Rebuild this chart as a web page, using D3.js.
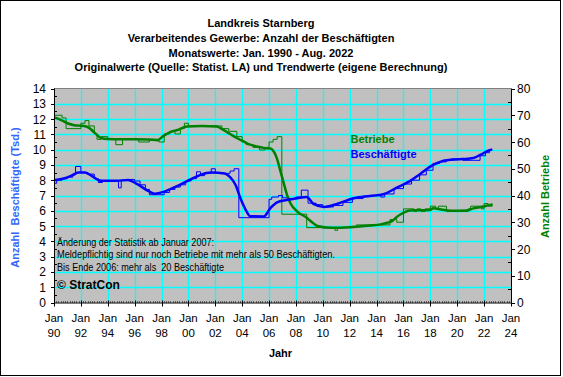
<!DOCTYPE html>
<html><head><meta charset="utf-8">
<script src="https://cdn.jsdelivr.net/npm/d3@7"></script>
<style>body{margin:0;background:#fff}svg{display:block;font-family:Arial,"Liberation Sans",sans-serif}</style>
</head><body><svg id="c" width="563" height="377"></svg>
<script>
const titleLines = ["Landkreis Starnberg","Verarbeitendes Gewerbe: Anzahl der Beschäftigten","Monatswerte: Jan. 1990 - Aug. 2022","Originalwerte (Quelle: Statist. LA) und Trendwerte (eigene Berechnung)"];
const xTickYears = [1990,1992,1994,1996,1998,2000,2002,2004,2006,2008,2010,2012,2014,2016,2018,2020,2022,2024];
const leftTicks = [0,1,2,3,4,5,6,7,8,9,10,11,12,13,14];
const rightTicks = [0,10,20,30,40,50,60,70,80];
const notes = ["Änderung der Statistik ab Januar 2007:","Meldepflichtig sind nur noch Betriebe mit mehr als 50 Beschäftigten.","Bis Ende 2006: mehr als  20 Beschäftigte"];
const noteWidths = [157,278,167];
// Beschäftigte (Tsd.) original, step points [year, value]
const beschOrigYear = [1990.0,1990.2,1990.6,1991.0,1991.4,1991.6,1992.0,1992.5,1993.0,1993.3,1993.6,1994.5,1994.8,1995.0,1995.5,1996.0,1996.4,1996.8,1997.1,1998.2,1998.6,1999.0,1999.4,1999.8,2000.2,2000.6,2000.9,2001.2,2001.7,2002.0,2002.6,2003.1,2003.4,2003.75,2006.0,2006.2,2006.7,2007.0,2007.5,2008.0,2008.4,2008.9,2009.5,2010.0,2010.8,2011.5,2012.2,2013.0,2013.6,2014.3,2014.6,2015.3,2016.0,2016.6,2017.2,2017.7,2018.2,2018.7,2019.2,2019.6,2020.4,2021.2,2021.7,2022.1,2022.4,2022.6];
const beschOrigVal  = [7.8,8.0,8.1,8.2,8.35,8.9,8.5,8.4,8.1,7.85,7.95,7.95,7.5,8.0,8.05,7.95,7.7,7.4,7.05,7.2,7.4,7.55,7.7,7.95,8.1,8.55,8.3,8.45,8.75,8.5,8.45,8.6,8.75,5.55,6.75,6.9,7.0,6.85,6.8,6.9,7.35,6.5,6.4,6.25,6.35,6.55,6.8,6.95,7.0,6.9,7.1,7.45,7.75,8.0,8.35,8.65,9.1,9.2,9.3,9.4,9.3,9.3,9.6,9.8,10.0,10.0];
// Beschäftigte trend
const beschTrendYear = [1990.0,1990.8,1991.3,1991.8,1992.3,1992.8,1993.5,1994.7,1995.5,1996.2,1997.0,1997.5,1998.2,1999.2,2000.2,2000.9,2001.7,2002.7,2003.1,2003.5,2003.9,2004.3,2004.6,2005.6,2006.1,2006.6,2007.3,2008.1,2008.8,2009.3,2010.1,2011.1,2012.3,2013.5,2014.5,2015.5,2016.5,2017.2,2018.2,2019.2,2020.4,2021.2,2021.7,2022.4,2022.6];
const beschTrendVal  = [8.0,8.13,8.3,8.5,8.5,8.28,7.96,7.96,8.02,7.74,7.3,7.12,7.25,7.63,8.07,8.35,8.5,8.44,8.2,7.7,6.75,6.0,5.65,5.63,6.18,6.55,6.7,6.82,6.9,6.45,6.25,6.46,6.82,6.97,7.08,7.51,7.96,8.38,9.0,9.31,9.38,9.45,9.65,9.97,10.02];
// Betriebe original, step points
const betrOrigYear = [1990.0,1990.6,1990.9,1992.0,1992.3,1992.6,1993.0,1993.2,1993.5,1994.0,1994.6,1995.1,1996.3,1997.1,1997.8,1998.2,1998.6,1999.0,1999.4,1999.7,2000.0,2002.5,2003.0,2003.6,2004.0,2004.3,2004.8,2005.3,2005.7,2006.0,2006.3,2006.6,2006.95,2008.8,2010.9,2011.1,2012.5,2014.0,2015.0,2015.5,2016.0,2016.8,2017.0,2017.3,2017.6,2018.0,2018.4,2018.6,2019.2,2020.8,2021.0,2021.8,2022.0,2022.3,2022.6];
const betrOrigVal  = [70,69,65,67,68,66,63,61,62,61,59,61,60,61,60,63,64,63,65,67,66,65,64,62,60,59,58,57,58,60,61,62,33,28,27,28,29,29,31,30,35,34,35,34,35,36,35,36,34,35,36,35,37,36,37];
// Betriebe trend
const betrTrendYear = [1990.0,1990.5,1991.0,1991.5,1992.0,1992.5,1993.0,1993.5,1994.0,1995.0,1996.0,1997.0,1997.7,1998.2,1998.7,1999.2,1999.9,2001.0,2002.1,2002.6,2003.1,2003.6,2004.1,2004.6,2005.1,2005.6,2006.1,2006.4,2006.6,2006.85,2007.1,2007.35,2007.6,2008.1,2008.8,2009.2,2009.6,2010.6,2012.0,2013.5,2014.3,2014.8,2015.2,2015.5,2015.8,2016.5,2017.5,2018.0,2018.2,2018.8,2019.5,2020.7,2021.2,2021.8,2022.4,2022.6];
const betrTrendVal  = [69.2,68.3,67.0,66.3,66.1,65.6,63.6,61.5,61.1,61.0,61.0,60.9,60.7,62.5,63.8,64.5,65.8,66.0,65.8,64.5,63.0,61.5,60.2,59.0,58.3,57.8,57.6,56.0,53.6,49.0,44.5,40.0,37.0,34.0,31.7,30.0,28.6,27.9,28.1,28.8,29.2,29.8,30.6,32.0,33.0,34.4,34.5,34.6,35.2,34.8,34.3,34.4,35.2,35.7,36.4,36.6];

const svg = d3.select("#c");
const L = 54, R = 511, T = 88.5, B = 302.5;
const x = d3.scaleLinear().domain([1990,2024]).range([L,R]);
const yL = d3.scaleLinear().domain([0,14]).range([B,T]);
const yR = d3.scaleLinear().domain([0,80]).range([B,T]);
const BLUE = "#0000ff", GREEN = "#008000";

svg.append("rect").attr("x",0.5).attr("y",0.5).attr("width",560).attr("height",375).attr("fill","#fff").attr("stroke","#000").attr("stroke-width",1);

// titles
svg.append("g").selectAll("text").data(titleLines).join("text")
  .attr("x",261).attr("y",(d,i)=>27+i*14.8).attr("text-anchor","middle")
  .attr("font-size",11).attr("font-weight","bold").text(d=>d);

// plot bg
svg.append("rect").attr("x",L).attr("y",T).attr("width",R-L).attr("height",B-T).attr("fill","#c0c0c0");
// grid
const g = svg.append("g").attr("stroke","#00ffff").attr("stroke-width",1.3);
g.selectAll(".v").data(xTickYears.filter(v=>v>1990&&v<2024)).join("line")
  .attr("x1",d=>Math.round(x(d))+0.5).attr("x2",d=>Math.round(x(d))+0.5).attr("y1",T).attr("y2",B);
g.selectAll(".h").data(leftTicks.filter(v=>v>0&&v<14)).join("line")
  .attr("y1",d=>Math.round(yL(d))+0.5).attr("y2",d=>Math.round(yL(d))+0.5).attr("x1",L).attr("x2",R);
svg.append("line").attr("x1",L).attr("x2",R).attr("y1",T).attr("y2",T).attr("stroke","#808080");

// series
const pts = (ys,vs)=>ys.map((d,i)=>[d,vs[i]]);
const lineL = c=>d3.line().x(d=>x(d[0])).y(d=>yL(d[1])).curve(c);
const lineR = c=>d3.line().x(d=>x(d[0])).y(d=>yR(d[1])).curve(c);
svg.append("path").attr("d",lineR(d3.curveStepAfter)(pts(betrOrigYear,betrOrigVal))).attr("fill","none").attr("stroke",GREEN).attr("stroke-width",1);
svg.append("path").attr("d",lineL(d3.curveStepAfter)(pts(beschOrigYear,beschOrigVal))).attr("fill","none").attr("stroke",BLUE).attr("stroke-width",1);
svg.append("path").attr("d",lineR(d3.curveMonotoneX)(pts(betrTrendYear,betrTrendVal))).attr("fill","none").attr("stroke",GREEN).attr("stroke-width",2.5);
svg.append("path").attr("d",lineL(d3.curveMonotoneX)(pts(beschTrendYear,beschTrendVal))).attr("fill","none").attr("stroke",BLUE).attr("stroke-width",2.5);

// axes
const ax = svg.append("g").attr("stroke","#000").attr("stroke-width",1);
ax.append("line").attr("x1",L+0.5).attr("x2",L+0.5).attr("y1",T).attr("y2",B+0.5);
ax.append("line").attr("x1",R+0.5).attr("x2",R+0.5).attr("y1",T).attr("y2",B+0.5);
ax.append("line").attr("x1",L).attr("x2",R+1).attr("y1",B+0.5).attr("y2",B+0.5);
ax.selectAll(".lt").data(leftTicks).join("line").attr("x1",L-3).attr("x2",L+1).attr("y1",d=>Math.round(yL(d))+0.5).attr("y2",d=>Math.round(yL(d))+0.5);
ax.selectAll(".lm").data(d3.range(0.5,14,1)).join("line").attr("x1",L).attr("x2",L+3).attr("y1",d=>Math.round(yL(d))+0.5).attr("y2",d=>Math.round(yL(d))+0.5);
ax.selectAll(".rt").data(rightTicks).join("line").attr("x1",R).attr("x2",R+4).attr("y1",d=>Math.round(yR(d))+0.5).attr("y2",d=>Math.round(yR(d))+0.5);
ax.selectAll(".rm").data(d3.range(5,80,10)).join("line").attr("x1",R-3).attr("x2",R+1).attr("y1",d=>Math.round(yR(d))+0.5).attr("y2",d=>Math.round(yR(d))+0.5);
ax.selectAll(".bt").data(xTickYears).join("line").attr("x1",d=>Math.round(x(d))+0.5).attr("x2",d=>Math.round(x(d))+0.5).attr("y1",B-2).attr("y2",B+4);
ax.selectAll(".bm").data(d3.range(1990,2024,1/6)).join("line").attr("x1",d=>Math.round(x(d))+0.5).attr("x2",d=>Math.round(x(d))+0.5).attr("y1",B-1).attr("y2",B);

// tick labels
const tl = svg.append("g").attr("font-size",12).attr("fill","#000");
tl.selectAll(".ll").data(leftTicks).join("text").attr("x",46).attr("y",d=>yL(d)+4.5).attr("text-anchor","end").text(d=>d);
tl.selectAll(".rl").data(rightTicks).join("text").attr("x",517).attr("y",d=>yR(d)+4.5).text(d=>d);
const xl = svg.append("g").attr("font-size",11.5).attr("text-anchor","middle");
xl.selectAll(".j").data(xTickYears).join("text").attr("x",d=>x(d)).attr("y",322).text("Jan");
xl.selectAll(".yy").data(xTickYears).join("text").attr("x",d=>x(d)).attr("y",336.5).text(d=>String(d%100).padStart(2,"0"));

// axis titles
svg.append("text").attr("x",280.5).attr("y",357).attr("text-anchor","middle").attr("font-size",11).attr("font-weight","bold").text("Jahr");
svg.append("text").attr("transform","translate(19,197.5) rotate(-90)").attr("text-anchor","middle").attr("font-size",11).attr("font-weight","bold").attr("fill","#3366ff").style("white-space","pre").text("Anzahl  Beschäftigte (Tsd.)");
svg.append("text").attr("transform","translate(549,196.5) rotate(-90)").attr("text-anchor","middle").attr("font-size",11).attr("font-weight","bold").attr("fill",GREEN).text("Anzahl Betriebe");

// legend
svg.append("text").attr("x",350.5).attr("y",143).attr("font-size",11).attr("font-weight","bold").attr("fill",GREEN).text("Betriebe");
svg.append("text").attr("x",350.5).attr("y",158).attr("font-size",11).attr("font-weight","bold").attr("fill",BLUE).text("Beschäftigte");

// notes
svg.append("g").selectAll("text").data(notes).join("text").attr("x",57).attr("y",(d,i)=>245.5+i*12.6)
  .attr("font-size",10.5).attr("textLength",(d,i)=>noteWidths[i]).attr("lengthAdjust","spacingAndGlyphs")
  .style("white-space","pre").text(d=>d);
svg.append("text").attr("x",57).attr("y",289).attr("font-size",12).attr("font-weight","bold").text("© StratCon");
</script></body></html>
